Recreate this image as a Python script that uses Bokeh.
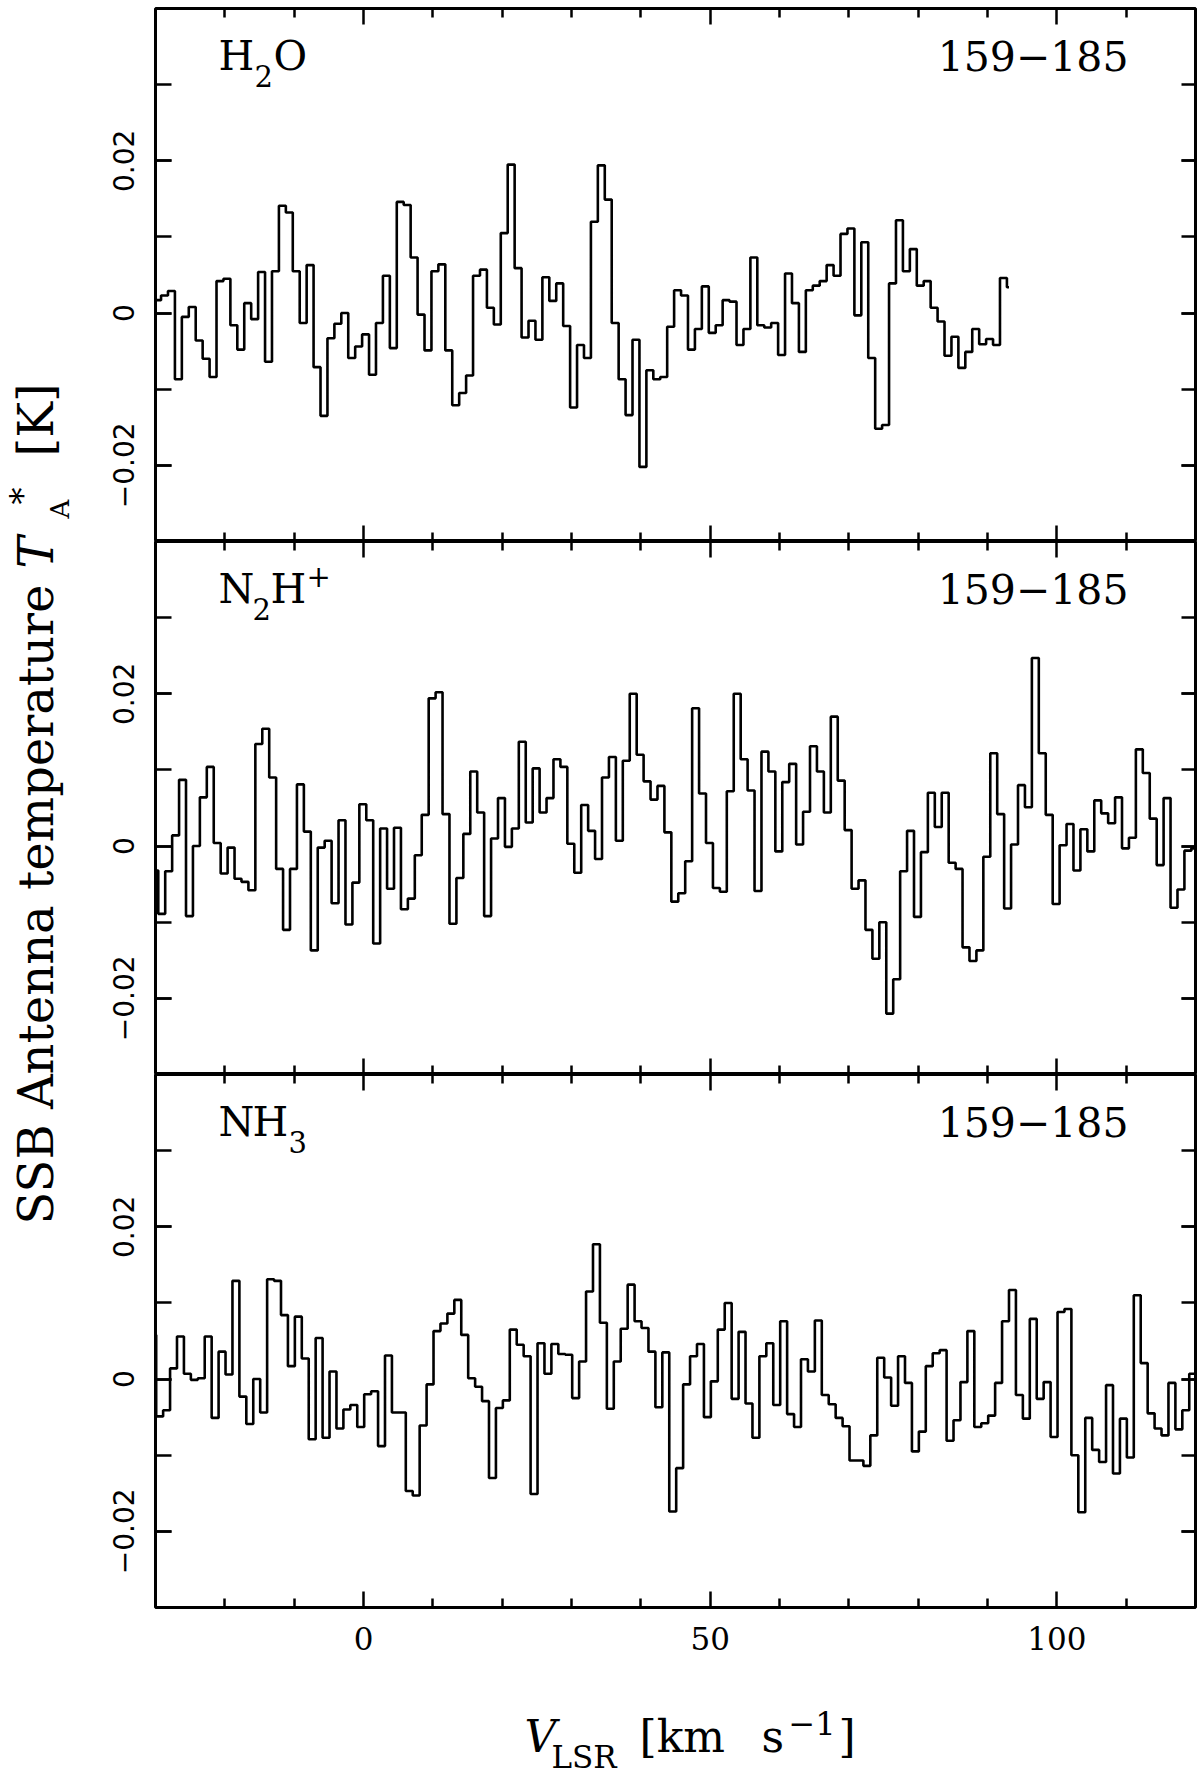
import numpy as np
from bokeh.plotting import figure
from bokeh.models import Range1d, LinearAxis, FixedTicker, Label
from bokeh.layouts import column, row
from bokeh.embed import file_html
from bokeh.resources import INLINE

# ---------------- data ----------------
CHAN_WIDTH = 1.0            # km/s
H2O_V_START = -30.2         # left edge of first channel
N2H_V_START = -30.6
NH3_V_START = -30.9
H2O_V_END = 93.1            # spectrum stops here

h2o_T = [0.0017, 0.0023, 0.0029, -0.0087, -0.0005, 0.0008, -0.0036, -0.0060, -0.0084, 0.0042,
         0.0045, -0.0016, -0.0048, 0.0013, -0.0008, 0.0054, -0.0064, 0.0055, 0.0141, 0.0132,
         0.0055, -0.0013, 0.0063, -0.0071, -0.0135, -0.0033, -0.0014, 0.0000, -0.0059, -0.0044,
         -0.0028, -0.0081, -0.0013, 0.0049, -0.0046, 0.0146, 0.0142, 0.0073, -0.0002, -0.0049,
         0.0055, 0.0064, -0.0049, -0.0121, -0.0105, -0.0082, 0.0049, 0.0057, 0.0007, -0.0015,
         0.0105, 0.0195, 0.0059, -0.0032, -0.0010, -0.0035, 0.0047, 0.0016, 0.0039, -0.0017,
         -0.0124, -0.0042, -0.0059, 0.0120, 0.0194, 0.0149, -0.0013, -0.0087, -0.0134, -0.0035,
         -0.0202, -0.0075, -0.0087, -0.0084, -0.0018, 0.0030, 0.0023, -0.0048, -0.0021, 0.0035,
         -0.0026, -0.0016, 0.0017, 0.0015, -0.0042, -0.0021, 0.0073, -0.0016, -0.0019, -0.0013,
         -0.0055, 0.0052, 0.0013, -0.0051, 0.0030, 0.0036, 0.0042, 0.0063, 0.0049, 0.0104,
         0.0111, -0.0003, 0.0093, -0.0059, -0.0152, -0.0147, 0.0039, 0.0122, 0.0055, 0.0084,
         0.0036, 0.0042, 0.0007, -0.0011, -0.0056, -0.0031, -0.0072, -0.0051, -0.0021, -0.0041,
         -0.0034, -0.0042, 0.0046, 0.0034]

n2h_T = [-0.0032, -0.0089, -0.0033, 0.0014, 0.0087, -0.0092, 0.0000, 0.0064, 0.0104, 0.0004,
         -0.0036, -0.0002, -0.0043, -0.0047, -0.0058, 0.0134, 0.0154, 0.0090, -0.0030, -0.0110,
         -0.0030, 0.0081, 0.0019, -0.0137, -0.0002, 0.0007, -0.0075, 0.0034, -0.0103, -0.0048,
         0.0055, 0.0034, -0.0128, 0.0023, -0.0056, 0.0024, -0.0083, -0.0069, -0.0012, 0.0041,
         0.0194, 0.0202, 0.0042, -0.0102, -0.0042, 0.0016, 0.0098, 0.0044, -0.0092, 0.0010,
         0.0063, -0.0001, 0.0023, 0.0137, 0.0031, 0.0102, 0.0044, 0.0063, 0.0114, 0.0104,
         0.0003, -0.0035, 0.0054, 0.0020, -0.0017, 0.0090, 0.0117, 0.0007, 0.0112, 0.0200,
         0.0120, 0.0085, 0.0061, 0.0079, 0.0018, -0.0073, -0.0062, -0.0020, 0.0181, 0.0069,
         0.0004, -0.0055, -0.0060, 0.0072, 0.0200, 0.0114, 0.0073, -0.0059, 0.0124, 0.0098,
         -0.0007, 0.0084, 0.0108, 0.0002, 0.0045, 0.0131, 0.0098, 0.0044, 0.0170, 0.0086,
         0.0021, -0.0056, -0.0045, -0.0110, -0.0148, -0.0100, -0.0220, -0.0175, -0.0033, 0.0020,
         -0.0093, -0.0008, 0.0070, 0.0025, 0.0070, -0.0022, -0.0030, -0.0133, -0.0151, -0.0137,
         -0.0014, 0.0122, 0.0042, -0.0082, 0.0002, 0.0080, 0.0051, 0.0247, 0.0122, 0.0041,
         -0.0076, 0.0001, 0.0029, -0.0032, 0.0022, -0.0007, 0.0060, 0.0043, 0.0030, 0.0064,
         -0.0003, 0.0011, 0.0127, 0.0096, 0.0036, -0.0025, 0.0063, -0.0081, -0.0057, -0.0006,
         -0.0003]

nh3_T = [0.0058, -0.0049, -0.0041, 0.0014, 0.0056, 0.0007, -0.0001, 0.0001, 0.0056, -0.0051,
         0.0036, 0.0006, 0.0129, -0.0023, -0.0059, 0.0000, -0.0044, 0.0131, 0.0129, 0.0084,
         0.0017, 0.0082, 0.0027, -0.0079, 0.0054, -0.0077, 0.0010, -0.0065, -0.0040, -0.0034,
         -0.0063, -0.0020, -0.0016, -0.0088, 0.0031, -0.0044, -0.0044, -0.0147, -0.0153, -0.0061,
         -0.0007, 0.0063, 0.0073, 0.0086, 0.0104, 0.0058, 0.0001, -0.0010, -0.0029, -0.0130,
         -0.0038, -0.0028, 0.0065, 0.0045, 0.0030, -0.0151, 0.0047, 0.0007, 0.0046, 0.0033,
         0.0032, -0.0025, 0.0023, 0.0115, 0.0177, 0.0074, -0.0039, 0.0023, 0.0066, 0.0124,
         0.0076, 0.0067, 0.0036, -0.0037, 0.0035, -0.0174, -0.0117, -0.0007, 0.0030, 0.0046,
         -0.0050, -0.0003, 0.0065, 0.0100, -0.0026, 0.0062, -0.0032, -0.0077, 0.0030, 0.0047,
         -0.0034, 0.0076, -0.0046, -0.0063, 0.0026, 0.0010, 0.0077, -0.0021, -0.0033, -0.0051,
         -0.0062, -0.0107, -0.0107, -0.0114, -0.0074, 0.0028, 0.0002, -0.0035, 0.0030, -0.0005,
         -0.0095, -0.0069, 0.0017, 0.0034, 0.0038, -0.0081, -0.0054, -0.0004, 0.0063, -0.0063,
         -0.0058, -0.0048, -0.0005, 0.0076, 0.0117, -0.0021, -0.0052, 0.0079, -0.0026, -0.0004,
         -0.0076, 0.0088, 0.0092, -0.0100, -0.0175, -0.0051, -0.0093, -0.0109, -0.0008, -0.0124,
         -0.0052, -0.0103, 0.0110, 0.0021, -0.0045, -0.0065, -0.0074, -0.0005, -0.0066, -0.0041,
         0.0007]

X_RANGE = (-30, 120)
Y_RANGE = (-0.03, 0.04)
x_major_ticks = [0, 50, 100]
x_minor_ticks = [-20, -10, 10, 20, 30, 40, 60, 70, 80, 90, 110]
y_major_ticks = [-0.02, 0, 0.02]
y_minor_ticks = [-0.02, -0.01, 0, 0.01, 0.02, 0.03]
y_tick_text = {-0.02: "\u22120.02", 0: "0", 0.02: "0.02"}
source_name = "159\u2212185"

# molecule labels: (text, role) pieces
molecules = [
    [("H", "main"), ("2", "sub"), ("O", "main")],
    [("N", "main"), ("2", "sub"), ("H", "main"), ("+", "sup")],
    [("N", "main"), ("H", "main"), ("3", "sub")],
]
molecule_piece_x = [[63, 99, 118], [63, 97, 115, 151], [63, 97, 133]]

# ---------------- layout / style ----------------
SERIF = "DejaVu Serif"
SANS = "DejaVu Sans"
PAGE_W, PAGE_H = 1200, 1776
YLAB_W = 100
BORDER_L = 55
FRAME_W = 1040
FRAME_H = 533
TOP_PAD = 8
TICKLAB_H = 80
PANELS_H = TOP_PAD + FRAME_H * 3 + TICKLAB_H
XLAB_H = PAGE_H - PANELS_H
BORDER_R = PAGE_W - YLAB_W - BORDER_L - FRAME_W
BASE_CORR = 0.39   # baseline correction (fraction of font size)


def add_text(p, text, x, y, size, style="normal", align="left", angle=0, font=SERIF):
    if angle == 0:
        y = y + BASE_CORR * size
    else:
        x = x - BASE_CORR * size
    p.add_layout(Label(x=x, y=y, x_units="screen", y_units="screen", text=text,
                       text_font=font, text_font_size=f"{size}px", text_font_style=style,
                       text_align=align, text_baseline="alphabetic", angle=angle,
                       angle_units="deg", text_color="black"))


def style_axis(ax, tick_in, minor_in, labels, ticks):
    ax.axis_line_color = None
    ax.major_tick_in = tick_in
    ax.major_tick_out = 0
    ax.minor_tick_in = minor_in
    ax.minor_tick_out = 0
    ax.major_tick_line_width = 2.5
    ax.minor_tick_line_width = 2.5
    ax.major_tick_line_color = "black"
    ax.minor_tick_line_color = "black"
    ax.axis_label = None
    if not labels:
        ax.major_label_overrides = {t: "" for t in ticks}
        ax.major_label_text_font_size = "0px"
        ax.major_label_standoff = 0


def make_panel(vstart, values, idx, v_end=None):
    top = TOP_PAD if idx == 0 else 0
    bottom = TICKLAB_H if idx == 2 else 0
    p = figure(frame_width=FRAME_W, frame_height=FRAME_H,
               x_range=Range1d(*X_RANGE), y_range=Range1d(*Y_RANGE),
               toolbar_location=None, output_backend="svg",
               min_border_left=BORDER_L, min_border_right=BORDER_R,
               min_border_top=top, min_border_bottom=bottom,
               outline_line_color="black", outline_line_width=3,
               background_fill_color="white", border_fill_color="white")
    p.xgrid.visible = False
    p.ygrid.visible = False

    xb = p.xaxis[0]
    xb.ticker = FixedTicker(ticks=x_major_ticks, minor_ticks=x_minor_ticks)
    style_axis(xb, 16, 9, labels=(idx == 2), ticks=x_major_ticks)
    if idx == 2:
        xb.major_label_text_font = SERIF
        xb.major_label_text_font_size = "31px"
        xb.major_label_standoff = 19
        xb.major_label_text_color = "black"

    yl = p.yaxis[0]
    yl.ticker = FixedTicker(ticks=y_major_ticks, minor_ticks=y_minor_ticks)
    style_axis(yl, 16, 16, labels=True, ticks=y_major_ticks)
    yl.major_label_overrides = y_tick_text
    yl.major_label_orientation = "parallel"
    yl.major_label_text_font = SANS
    yl.major_label_text_font_size = "28px"
    yl.major_label_standoff = 21
    yl.major_label_text_color = "black"

    xa = LinearAxis(ticker=FixedTicker(ticks=x_major_ticks, minor_ticks=x_minor_ticks))
    style_axis(xa, 16, 9, labels=False, ticks=x_major_ticks)
    p.add_layout(xa, "above")
    yr = LinearAxis(ticker=FixedTicker(ticks=y_major_ticks, minor_ticks=y_minor_ticks))
    style_axis(yr, 14, 14, labels=False, ticks=y_major_ticks)
    p.add_layout(yr, "right")

    n = len(values)
    edges = vstart + CHAN_WIDTH * np.arange(n + 1)
    if v_end is not None:
        edges[-1] = v_end
    ys = list(values) + [values[-1]]
    p.step(edges, ys, mode="after", line_color="black", line_width=2.6)

    # labels
    base = FRAME_H - 63
    for (txt, role), xx in zip(molecules[idx], molecule_piece_x[idx]):
        if role == "main":
            add_text(p, txt, xx, base, 41)
        elif role == "sub":
            add_text(p, txt, xx, base - 16, 29)
        else:
            add_text(p, txt, xx, base + 17, 29)
    add_text(p, source_name, 973, base, 41, align="right")
    return p


p1 = make_panel(H2O_V_START, h2o_T, 0, v_end=H2O_V_END)
p2 = make_panel(N2H_V_START, n2h_T, 1)
p3 = make_panel(NH3_V_START, nh3_T, 2)


def blank_fig(w, h):
    f = figure(width=w, height=h, x_range=Range1d(0, 1), y_range=Range1d(0, 1),
               x_axis_location=None, y_axis_location=None, min_border=0,
               toolbar_location=None, output_backend="svg",
               outline_line_color=None, background_fill_color="white",
               border_fill_color="white")
    f.xgrid.visible = False
    f.ygrid.visible = False
    return f


# y-axis title (positions follow page coordinates measured from the page bottom)
ylab = blank_fig(YLAB_W, PANELS_H)
yb = PAGE_H - PANELS_H
add_text(ylab, "SSB Antenna temperature", 54, 552 - yb, 48, angle=90)
add_text(ylab, "T", 54, 1208 - yb, 48, style="italic", angle=90)
add_text(ylab, "A", 70, 1258 - yb, 26, angle=90)
add_text(ylab, "*", 35, 1272 - yb, 34, angle=90)
add_text(ylab, "[K]", 54, 1320 - yb, 48, angle=90)

# x-axis title (bottom-based positions inside the strip below the panels)
xlab = blank_fig(PAGE_W, XLAB_H)
add_text(xlab, "V", 524, 23, 44, style="italic")
add_text(xlab, "LSR", 551, 7, 31)
add_text(xlab, "[km", 639, 23, 44)
add_text(xlab, "s", 761, 23, 44)
add_text(xlab, "\u22121", 788, 41, 32)
add_text(xlab, "]", 838, 23, 44)

layout = column(row(ylab, column(p1, p2, p3, spacing=0), spacing=0), xlab, spacing=0)

with open("out.html", "w") as f:
    f.write(file_html(layout, INLINE))
